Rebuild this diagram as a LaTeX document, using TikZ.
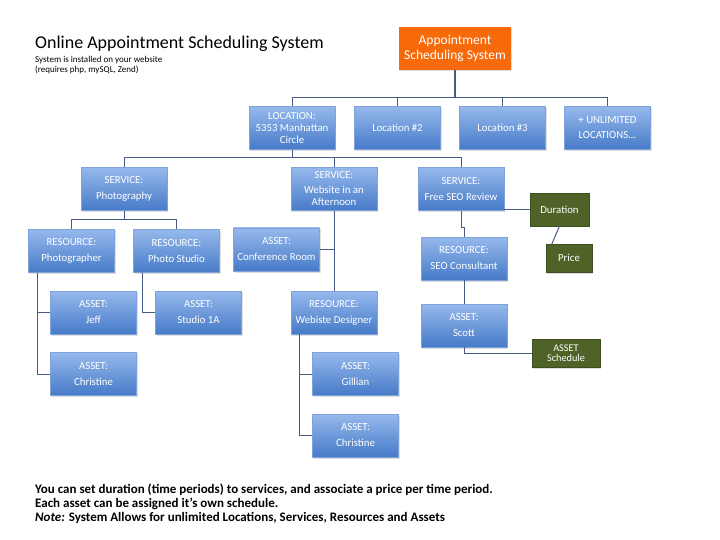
\documentclass[tikz,border=0pt]{standalone}
\usepackage{fontspec}
\setmainfont{Carlito}
\usetikzlibrary{shadows}
\definecolor{linkcol}{RGB}{70,92,132}
\definecolor{bluetop}{RGB}{150,185,236}
\definecolor{bluebot}{RGB}{70,122,200}
\definecolor{rootcol}{RGB}{246,106,12}
\definecolor{olivecol}{RGB}{79,98,40}

\begin{document}
\begin{tikzpicture}[x=1pt, y=-1pt,
    link/.style={draw=linkcol, line width=1pt},
    bluebox/.style={rectangle, top color=bluetop, bottom color=bluebot, draw=bluebot!70!white,
      line width=0.3pt, text=white, minimum width=86pt, minimum height=43pt, inner sep=0pt,
      align=center, font=\fontsize{10.8}{12}\selectfont,
      drop shadow={opacity=0.25, shadow xshift=1pt, shadow yshift=-1.5pt}},
    olivebox/.style={rectangle, fill=olivecol, draw=olivecol!80!black, line width=0.3pt,
      text=white, inner sep=0pt, align=center, font=\fontsize{10.8}{11}\selectfont,
      drop shadow={opacity=0.25, shadow xshift=1pt, shadow yshift=-1.5pt}},
    rootbox/.style={rectangle, fill=rootcol, text=white, minimum width=112pt, minimum height=43pt,
      inner sep=0pt, align=center, font=\fontsize{13.5}{14.5}\selectfont,
      drop shadow={opacity=0.25, shadow xshift=1pt, shadow yshift=-1.5pt}}]
  \useasboundingbox (0,0) rectangle (720,540);

  % title
  \node [anchor=base west, inner sep=0pt, font=\fontsize{18}{20}\selectfont] (title) at (35,49) {Online Appointment Scheduling System};
  \node [anchor=base west, inner sep=0pt, font=\fontsize{9}{10}\selectfont] (sub1) at (35,63) {System is installed on your website};
  \node [anchor=base west, inner sep=0pt, font=\fontsize{9}{10}\selectfont] (sub2) at (35,73) {(requires php, mySQL, Zend)};

  % tree
  \node [rootbox] (root) at (455,48.5) {Appointment\\Scheduling System};

  \node [bluebox] (loc1) at (292,128) {LOCATION:\\5353 Manhattan\\Circle};
  \node [bluebox] (loc2) at (397.5,128) {Location \#2};
  \node [bluebox] (loc3) at (502.5,128) {Location \#3};
  \node [bluebox] (loc4) at (607.5,128) {+ UNLIMITED\\[3pt]LOCATIONS...};

  \node [bluebox] (serv1) at (124,189) {SERVICE:\\[4pt]Photography};
  \node [bluebox] (serv2) at (334,189) {SERVICE:\\[3pt]Website in an\\Afternoon};
  \node [bluebox] (serv3) at (461,189) {SERVICE:\\[4pt]Free SEO Review};

  \node [bluebox] (res1) at (71.5,251) {RESOURCE:\\[4pt]Photographer};
  \node [bluebox] (res2) at (176.5,251) {RESOURCE:\\[4pt]Photo Studio};
  \node [bluebox] (conf) at (276.5,249.5) {ASSET:\\[4pt]Conference Room};
  \node [bluebox] (webdes) at (334,312.5) {RESOURCE:\\[4pt]Webiste Designer};
  \node [bluebox] (seo) at (464,258.5) {RESOURCE:\\[4pt]SEO Consultant};

  \node [bluebox] (jeff) at (93.5,312.5) {ASSET:\\[4pt]Jeff};
  \node [bluebox] (studio) at (198.5,312.5) {ASSET:\\[4pt]Studio 1A};
  \node [bluebox] (chris1) at (93.5,374) {ASSET:\\[4pt]Christine};
  \node [bluebox] (gillian) at (355.5,374) {ASSET:\\[4pt]Gillian};
  \node [bluebox] (chris2) at (355.5,435.5) {ASSET:\\[4pt]Christine};
  \node [bluebox] (scott) at (464,325.5) {ASSET:\\[4pt]Scott};

  \node [olivebox, minimum width=59pt, minimum height=33pt] (dur) at (559.5,209.5) {Duration};
  \node [olivebox, minimum width=46pt, minimum height=28pt] (price) at (569,258) {Price};
  \node [olivebox, minimum width=68pt, minimum height=28pt, font=\fontsize{10.3}{10.5}\selectfont] (sched) at (566,353) {ASSET\\Schedule};

  % connectors
  \draw [link, line width=1.8pt] (root.south) -- ([yshift=9pt]loc3.north -| root.south);
  \foreach \n in {loc1,loc2,loc3,loc4}
    \draw [link] (root.south) |- ([yshift=9pt]\n.north) -- (\n.north);
  \foreach \n in {serv1,serv2,serv3}
    \draw [link] (loc1.south) |- ([yshift=10pt]\n.north) -- (\n.north);
  \foreach \n in {res1,res2}
    \draw [link] (serv1.south) |- ([yshift=10pt]\n.north) -- (\n.north);
  \foreach \n in {jeff,chris1}
    \draw [link] ([xshift=-34.5pt]res1.south) |- (\n.west);
  \draw [link] ([xshift=-34.5pt]res2.south) |- (studio.west);
  \draw [link] (serv2.south) -- (webdes.north);
  \draw [link] (conf.east) -- (conf.east -| serv2.south);
  \foreach \n in {gillian,chris2}
    \draw [link] ([xshift=-35pt]webdes.south) |- (\n.west);
  \draw [link] (serv3.south) -- ++(0,17) -| (seo.north);
  \draw [link] (seo.south) -- (scott.north);
  \draw [link] (scott.south) |- (sched.west);
  \draw [link] (dur.west -| serv3.east) -- (dur.west);
  \draw [link] (dur.south) -- ([xshift=6pt]price.north west);

  % notes
  \node [anchor=base west, inner sep=0pt, font=\bfseries\fontsize{13}{14}\selectfont] (note1) at (35,493) {You can set duration (time periods) to services, and associate a price per time period.};
  \node [anchor=base west, inner sep=0pt, font=\bfseries\fontsize{13}{14}\selectfont] (note2) at (35,507) {Each asset can be assigned it’s own schedule.};
  \node [anchor=base west, inner sep=0pt, font=\bfseries\fontsize{13}{14}\selectfont] (note3) at (35,521) {\textit{Note:} System Allows for unlimited Locations, Services, Resources and Assets};
\end{tikzpicture}
\end{document}
